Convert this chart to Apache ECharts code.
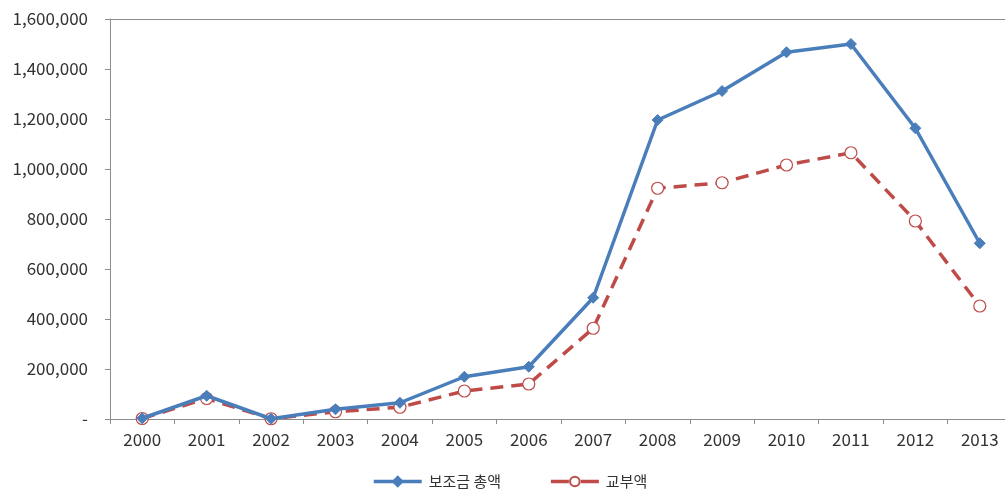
<!DOCTYPE html>
<html>
<head>
<meta charset="utf-8">
<style>
  html, body { margin: 0; padding: 0; background: #fff; }
  #chart { width: 1005px; height: 495px; }
</style>
<script src="https://cdn.jsdelivr.net/npm/echarts@6/dist/echarts.min.js"></script>
</head>
<body>
<div id="chart"></div>
<script>
// Years on the category axis
const years = ['2000', '2001', '2002', '2003', '2004', '2005', '2006',
               '2007', '2008', '2009', '2010', '2011', '2012', '2013'];

// 보조금 총액 (total subsidy)
const totalSubsidy = [3000, 93000, 1000, 39000, 65000, 169000, 209000,
                      485000, 1196000, 1312000, 1467000, 1500000, 1163000, 703000];

// 교부액 (amount granted)
const grantedAmount = [2000, 82000, 1000, 29000, 47000, 112000, 140000,
                       363000, 923000, 945000, 1016000, 1065000, 792000, 452000];

// Series names
const seriesNames = ['보조금 총액', '교부액'];

const FONT = '"Noto Sans CJK KR", "Noto Sans", sans-serif';
const AXIS_GRAY = '#8c8c8c';
const TEXT = '#333333';
const BLUE = '#4a7ebb';
const RED = '#be4b48';
const LINE_W = 3.5;
const DASH = [13, 8];

const chart = echarts.init(document.getElementById('chart'), null, { renderer: 'canvas' });

chart.setOption({
  animation: false,
  backgroundColor: '#ffffff',
  textStyle: { fontFamily: FONT },
  // plotting area runs a little past the right edge of the canvas
  grid: {
    left: 110, top: 19, width: 902, height: 400,
    containLabel: false,
    outerBoundsMode: 'none'
  },
  legend: {
    top: 474,
    left: 372,
    padding: 0,
    itemWidth: 48,
    itemHeight: 12,
    itemGap: 48,
    textStyle: { fontFamily: FONT, fontSize: 15, color: TEXT, padding: [0, 0, 0, 2] },
    data: [
      { name: seriesNames[0], lineStyle: { width: LINE_W } },
      // one dash on each side of the marker
      { name: seriesNames[1], lineStyle: { width: LINE_W, type: [18, 12] } }
    ]
  },
  xAxis: [
    {
      type: 'category',
      data: years,
      boundaryGap: true,
      axisLine: { show: true, lineStyle: { color: AXIS_GRAY, width: 1 } },
      axisTick: { show: true, alignWithLabel: false, length: 5, lineStyle: { color: AXIS_GRAY } },
      axisLabel: { fontFamily: FONT, fontSize: 17, color: TEXT, margin: 12 },
      splitLine: { show: false }
    },
    {
      // top border of the plotting area
      type: 'category',
      data: years,
      position: 'top',
      axisLine: { show: true, lineStyle: { color: AXIS_GRAY, width: 1 } },
      axisTick: { show: false },
      axisLabel: { show: false },
      splitLine: { show: false }
    }
  ],
  yAxis: {
    type: 'value',
    min: 0,
    max: 1600000,
    interval: 200000,
    axisLine: { show: true, lineStyle: { color: AXIS_GRAY, width: 1 } },
    axisTick: { show: true, length: 5, inside: false, lineStyle: { color: AXIS_GRAY } },
    axisLabel: {
      fontFamily: FONT,
      fontSize: 17,
      color: TEXT,
      margin: 22,
      formatter: v => (v === 0 ? '-' : v.toLocaleString('en-US'))
    },
    splitLine: { show: false }
  },
  series: [
    {
      name: seriesNames[0],
      type: 'line',
      data: totalSubsidy,
      symbol: 'diamond',
      symbolSize: 11,
      z: 3,
      lineStyle: { color: BLUE, width: LINE_W },
      itemStyle: { color: BLUE, borderColor: BLUE, borderWidth: 1 }
    },
    {
      name: seriesNames[1],
      type: 'line',
      data: grantedAmount,
      symbol: 'circle',
      symbolSize: 12,
      showAllSymbol: true,
      z: 2,
      lineStyle: { color: RED, width: LINE_W, type: DASH },
      itemStyle: { color: '#ffffff', borderColor: RED, borderWidth: 1.2 }
    }
  ]
});
</script>
</body>
</html>
